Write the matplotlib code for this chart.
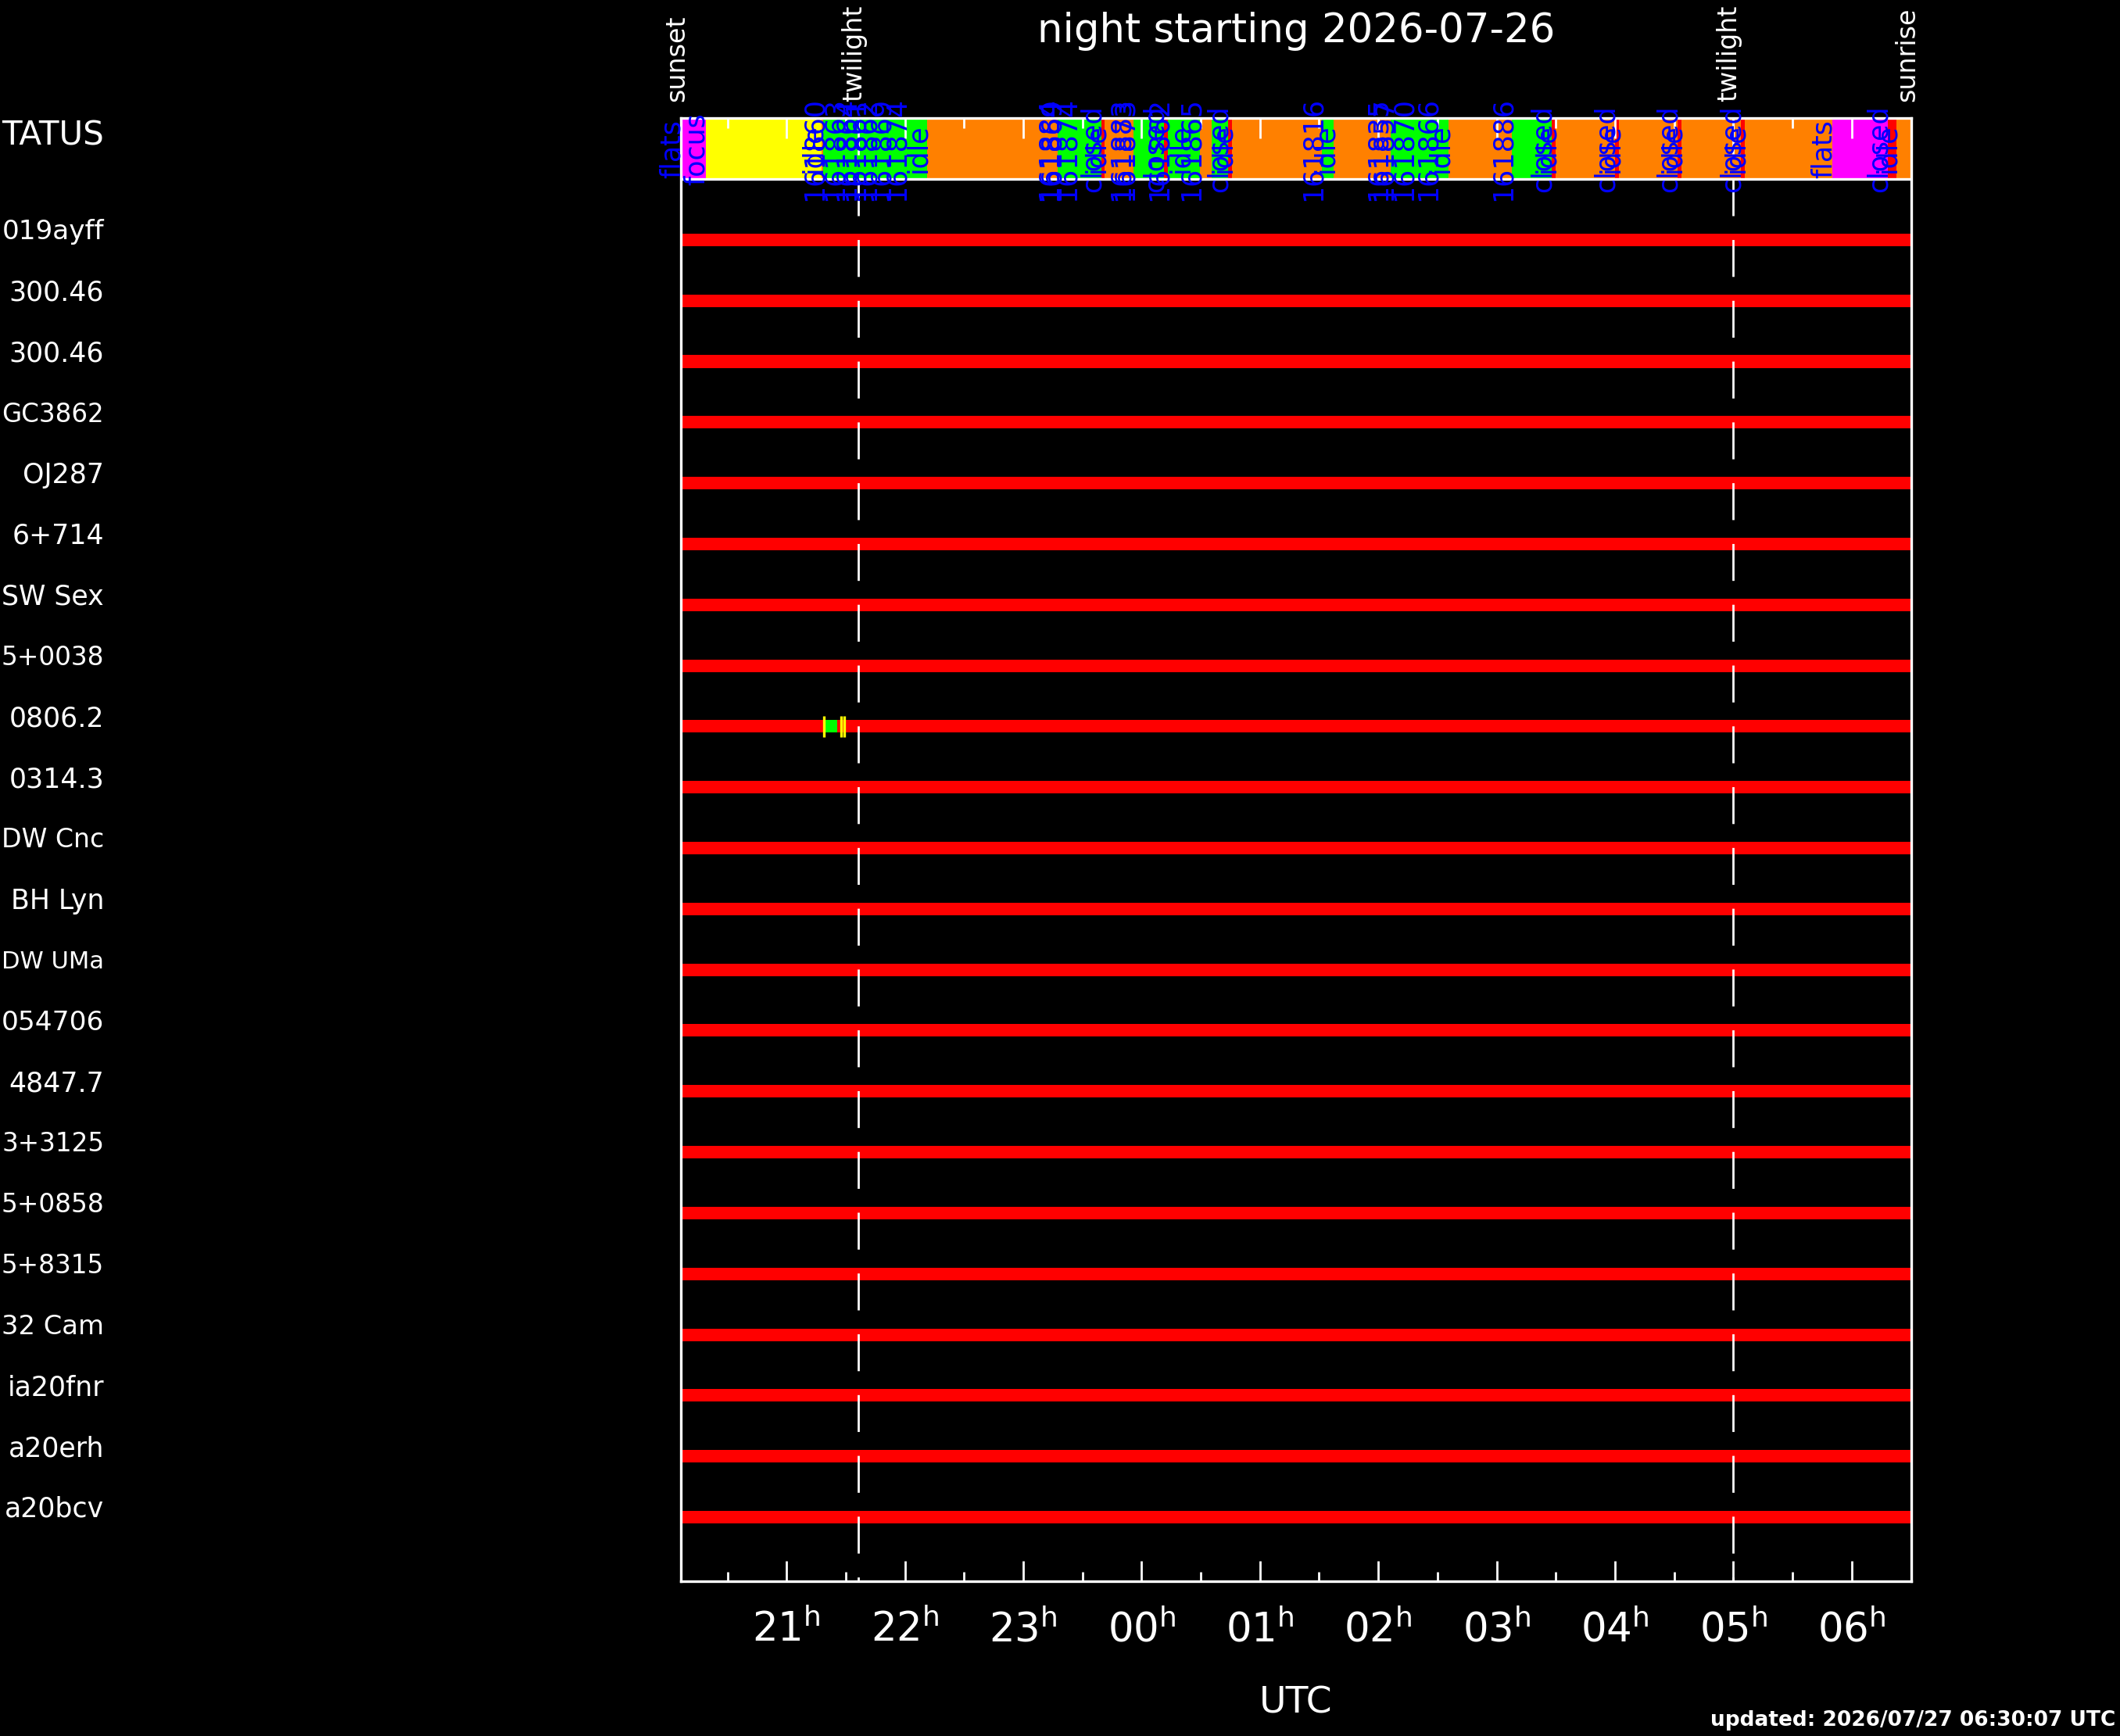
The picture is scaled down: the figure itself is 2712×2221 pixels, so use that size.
import matplotlib
matplotlib.use("Agg")
import matplotlib.pyplot as plt
from matplotlib.transforms import blended_transform_factory

# night events (UTC hours, past midnight continues as 24+)
sunset = 20.109
twilight_eve = 21.605
twilight_morn = 29.0
sunrise = 30.503
night_label = "night starting 2026-07-26"
updated = "updated: 2026/07/27 06:30:07 UTC"

# row names as far as they are visible at the left edge
status_name = "TATUS"
targets = ["019ayff", "300.46", "300.46", "GC3862", "OJ287", "6+714",
           "SW Sex", "5+0038", "0806.2", "0314.3", "DW Cnc", "BH Lyn",
           "DW UMa", "054706", "4847.7", "3+3125", "5+0858", "5+8315",
           "32 Cam", "ia20fnr", "a20erh", "a20bcv"]

# telescope status timeline: segment start times and state
seg_start = [20.109, 20.315, 21.297, 21.308, 22.188, 23.290, 23.661, 23.690,
             23.931, 24.192, 24.225, 24.495, 24.590, 24.731, 24.763, 25.523,
             25.625, 26.105, 26.596, 27.126, 27.464, 27.498, 28.001, 28.035,
             28.526, 28.560, 29.063, 29.098, 29.840, 30.308, 30.377]
seg_state = ["flats", "focus", "idle", "obs", "idle", "obs", "closed", "idle",
             "obs", "closed", "obs", "idle", "obs", "closed", "idle", "obs",
             "idle", "obs", "idle", "obs", "closed", "idle", "closed", "idle",
             "closed", "idle", "closed", "idle", "flats", "closed", "idle"]

# status labels written in the bar
label_time = [20.109, 20.315, 21.297, 21.308, 21.480, 21.582, 21.662, 21.754,
              21.868, 22.005, 22.188, 23.290, 23.310, 23.444, 23.661, 23.690,
              23.900, 23.931, 24.192, 24.225, 24.403, 24.495, 24.731, 24.763,
              25.523, 25.625, 26.071, 26.116, 26.288, 26.493, 26.596, 27.126,
              27.464, 27.498, 28.001, 28.035, 28.526, 28.560, 29.063, 29.098,
              29.840, 30.308, 30.377]
label_text = ["flats", "focus", "idle", "161860", "161863", "161864", "161861",
              "161862", "161869", "161874", "idle", "161884", "161869", "161874",
              "closed", "idle", "161883", "161873", "closed", "161862", "idle",
              "161865", "closed", "idle", "161816", "idle", "161835", "161857",
              "161870", "161866", "idle", "161886", "closed", "idle", "closed",
              "idle", "closed", "idle", "closed", "idle", "flats", "closed", "idle"]

# observations drawn on target rows
obs_row = 8
obs_box = (21.328, 21.426)
obs_marks = [21.314, 21.462, 21.490]

state_color = {"flats": "#ff00ff", "focus": "#ffff00", "idle": "#ff8000",
               "obs": "#00ff00", "closed": "#ff0000"}

fig = plt.figure(figsize=(27.12, 22.21), dpi=100, facecolor="black")
ax = fig.add_axes([0.3213, 0.0893, 0.5802, 0.8426], facecolor="black")

# status bar
seg_end = seg_start[1:] + [sunrise]
for s, e, st in zip(seg_start, seg_end, seg_state):
    ax.barh(-1.5, e - s, left=s, height=1.0, color=state_color[st], linewidth=0)
ax.axhline(-1, color="white", lw=2.4, zorder=3)

for t, txt in zip(label_time, label_text):
    ax.annotate(txt, xy=(t, -1.5), xytext=(4, 0), textcoords="offset points",
                rotation=90, ha="right", va="center", color="#0000ff",
                fontsize=25, annotation_clip=False, zorder=4)

# target rows
rows = list(range(len(targets)))
ax.barh(rows, sunrise - sunset, left=sunset, height=0.206, color="#ff0000",
        linewidth=0)
ax.barh(obs_row, obs_box[1] - obs_box[0], left=obs_box[0], height=0.206,
        color="#00ff00", linewidth=0, zorder=3)
ax.vlines(obs_marks, obs_row - 0.17, obs_row + 0.17, color="#ffff00", lw=2.4,
          zorder=3)

# twilight lines
for t in (twilight_eve, twilight_morn):
    ax.plot([t, t], [-2, 22.05], color="white", lw=2, ls=(0, (17, 11)),
            zorder=3)

# event names above the frame
for t, name in [(sunset, "sunset"), (twilight_eve, "twilight"),
                (twilight_morn, "twilight"), (sunrise, "sunrise")]:
    ax.annotate(name, xy=(t, 1.0), xycoords=("data", "axes fraction"),
                xytext=(8, 15.6), textcoords="offset points", rotation=90,
                ha="right", va="bottom", color="white", fontsize=24,
                annotation_clip=False)

# row labels at the left of the figure
tr = blended_transform_factory(fig.transFigure, ax.transData)
row_texts = [ax.text(0.0491, -1.72, status_name, transform=tr, ha="right",
                     va="center", color="white", fontsize=33)]
for i, name in enumerate(targets):
    row_texts.append(ax.text(0.0491, i - 0.13, name, transform=tr, ha="right",
                             va="center", color="white", fontsize=25))

ax.set_xlim(sunset, sunrise)
ax.set_ylim(22.05, -2)
hours = list(range(21, 31))
ax.set_xticks(hours)
ax.set_xticklabels([r"$%02d^{\mathrm{h}}$" % (h % 24) for h in hours])
ax.set_xticks([h + 0.5 for h in range(20, 30)], minor=True)
ax.set_yticks([])
ax.tick_params(axis="x", which="both", direction="in", top=True, colors="white",
               width=2, labelsize=37, pad=27)
ax.tick_params(axis="x", which="major", length=19)
ax.tick_params(axis="x", which="minor", length=9)
for sp in ax.spines.values():
    sp.set_color("white")
    sp.set_linewidth(2.4)

ax.set_xlabel("UTC", color="white", fontsize=34, va="top")
ax.xaxis.set_label_coords(0.5, -0.0716)
ax.set_title(night_label, color="white", fontsize=37, pad=70)
fig.text(0.998, 0.003, updated, ha="right", va="bottom", color="white",
         fontsize=19, fontweight="bold")

# shrink the row names that would run past the left edge
renderer = fig.canvas.get_renderer()
right_px = 0.0491 * fig.bbox.width
for t in row_texts:
    bb = t.get_window_extent(renderer)
    if bb.x0 < 2:
        t.set_fontsize(t.get_fontsize() * (right_px - 2) / bb.width)

fig.savefig("out.png", dpi=100, facecolor="black")
